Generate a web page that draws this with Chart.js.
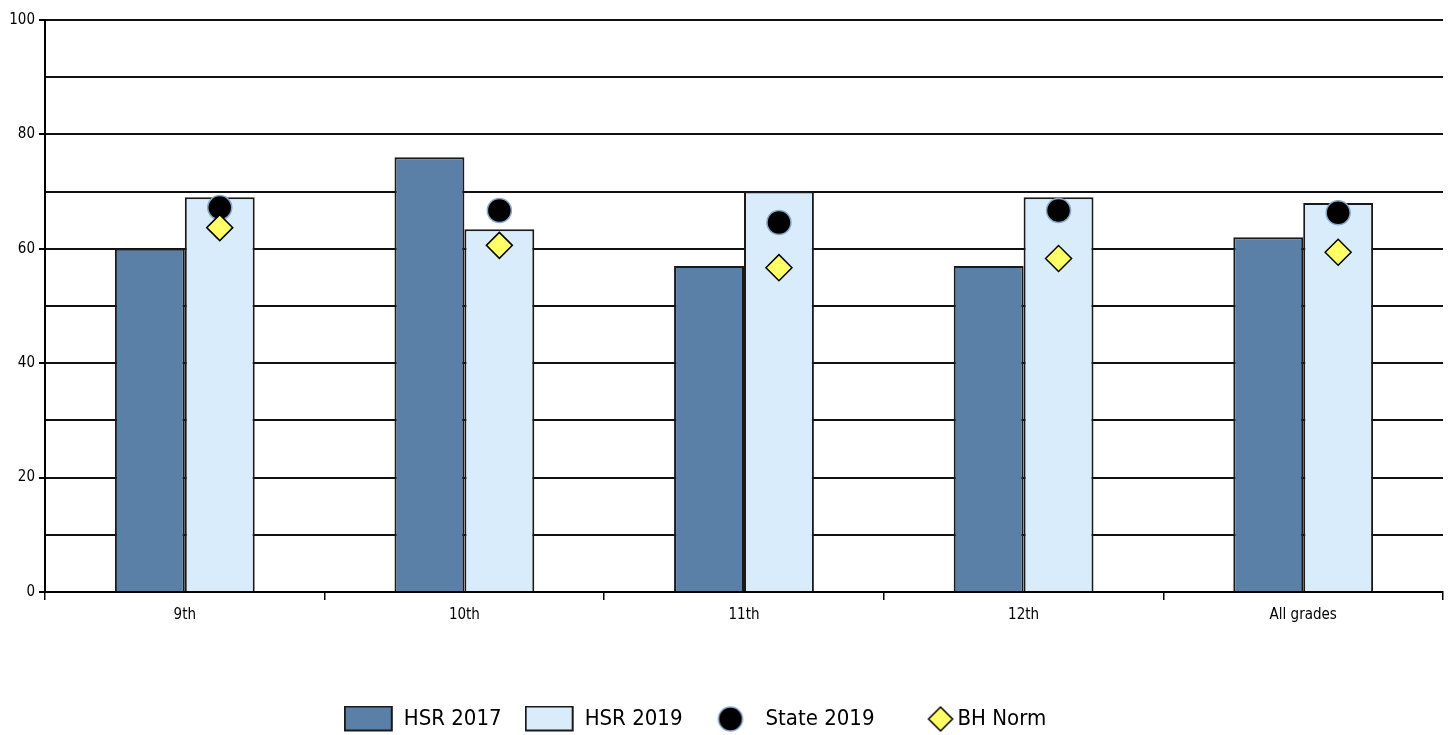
<!DOCTYPE html>
<html>
<head>
<meta charset="utf-8">
<script src="https://cdn.jsdelivr.net/npm/chart.js@4"></script>
<style>
  html, body { margin: 0; padding: 0; background: #fff; overflow: hidden; }
  #wrap { width: 1453px; height: 735px; }
</style>
</head>
<body>
<div id="wrap"><canvas id="chart"></canvas></div>
<script>
// Chart data
const grades = ['9th', '10th', '11th', '12th', 'All grades'];
const hsr2017 = [60, 76, 57, 57, 62];
const hsr2019 = [69, 63.4, 70, 69, 68];
const state2019 = [67.2, 66.7, 64.6, 66.7, 66.3];
const bhNorm = [63.7, 60.6, 56.7, 58.3, 59.4];
const yTicks = [0, 20, 40, 60, 80, 100];

const FONT = "'Liberation Sans Narrow', 'DejaVu Sans Condensed', 'Roboto Condensed', sans-serif";
const CAT_PCT = 0.5;
// markers sit on the centre of the second bar in each group
const MARK_SHIFT = CAT_PCT / 4;

// small canvases for the legend symbols
function legendIcon(kind) {
  const c = document.createElement('canvas');
  const g = c.getContext('2d');
  if (kind === 'rect17' || kind === 'rect19') {
    c.width = 50; c.height = 27;
    g.fillStyle = kind === 'rect17' ? '#5b80a8' : '#d9ecfc';
    g.fillRect(1, 1, 47, 24);
    g.strokeStyle = '#1a1a1a'; g.lineWidth = 2;
    g.strokeRect(1, 1, 47, 24);
  } else if (kind === 'circle') {
    c.width = 28; c.height = 28;
    g.beginPath(); g.arc(14, 14, 12, 0, Math.PI * 2);
    g.fillStyle = '#000'; g.fill();
    g.strokeStyle = '#8aa6c8'; g.lineWidth = 1.5; g.stroke();
  } else {
    // diamond sits close to its text, so draw it right of centre
    c.width = 64; c.height = 28;
    const cx = 50;
    g.beginPath();
    g.moveTo(cx, 2); g.lineTo(cx + 12, 14); g.lineTo(cx, 26); g.lineTo(cx - 12, 14); g.closePath();
    g.fillStyle = '#ffff66'; g.fill();
    g.strokeStyle = '#000'; g.lineWidth = 1.5; g.stroke();
  }
  return c;
}
const icons = [legendIcon('rect17'), legendIcon('rect19'), legendIcon('circle'), legendIcon('diamond')];

// nudge the legend a little left and down
const legendNudge = {
  id: 'legendNudge',
  afterLayout(chart) {
    const lg = chart.legend;
    lg.right -= 52;
    lg.top += 5;
    lg.bottom += 5;
  }
};

const ctx = document.getElementById('chart').getContext('2d');
new Chart(ctx, {
  type: 'bar',
  data: {
    datasets: [
      {
        label: 'HSR 2017',
        data: hsr2017.map((v, i) => ({ x: i, y: v })),
        backgroundColor: '#5b80a8',
        borderColor: '#1a1a1a',
        borderWidth: 2,
        categoryPercentage: CAT_PCT,
        barPercentage: 1.0,
        order: 3
      },
      {
        label: 'HSR 2019',
        data: hsr2019.map((v, i) => ({ x: i, y: v })),
        backgroundColor: '#d9ecfc',
        borderColor: '#1a1a1a',
        borderWidth: 2,
        categoryPercentage: CAT_PCT,
        barPercentage: 1.0,
        order: 3
      },
      {
        type: 'line',
        label: 'State 2019',
        data: state2019.map((v, i) => ({ x: i + MARK_SHIFT, y: v })),
        showLine: false,
        pointStyle: 'circle',
        pointRadius: 12,
        pointHoverRadius: 12,
        pointBackgroundColor: '#000',
        pointBorderColor: '#8aa6c8',
        pointBorderWidth: 1.5,
        order: 2
      },
      {
        type: 'line',
        label: 'BH Norm',
        data: bhNorm.map((v, i) => ({ x: i + MARK_SHIFT, y: v })),
        showLine: false,
        pointStyle: 'rectRot',
        pointRadius: 13,
        pointHoverRadius: 13,
        pointBackgroundColor: '#ffff66',
        pointBorderColor: '#000',
        pointBorderWidth: 1.5,
        order: 1
      }
    ]
  },
  options: {
    responsive: true,
    maintainAspectRatio: false,
    animation: false,
    layout: { autoPadding: false, padding: { top: 20, right: 10, left: 0, bottom: 0 } },
    scales: {
      x: {
        type: 'linear',
        offset: false,
        min: -0.5,
        max: grades.length - 0.5,
        afterBuildTicks(scale) {
          scale.ticks = grades.map((g, i) => ({ value: i }));
        },
        grid: {
          offset: true,
          drawOnChartArea: false,
          color: '#000',
          lineWidth: 1.5,
          tickLength: 8
        },
        border: { color: '#000', width: 2 },
        ticks: {
          color: '#000',
          font: { family: FONT, size: 15 },
          padding: 6,
          maxRotation: 0,
          autoSkip: false,
          callback: v => grades[v]
        },
        afterFit(scale) { scale.height = 87; }
      },
      y: {
        min: 0,
        max: 100,
        ticks: {
          stepSize: 10,
          color: '#000',
          font: { family: FONT, size: 15 },
          padding: 4,
          callback: v => yTicks.includes(v) ? v : ''
        },
        grid: {
          color: '#111',
          lineWidth: 2,
          tickLength: 6,
          tickColor: c => yTicks.includes(c.tick.value) ? '#000' : 'rgba(0,0,0,0)'
        },
        border: { color: '#000', width: 2 },
        afterFit(scale) { scale.width = 45; }
      }
    },
    plugins: {
      tooltip: { enabled: false },
      legend: {
        position: 'bottom',
        labels: {
          color: '#000',
          font: { family: FONT, size: 22 },
          usePointStyle: true,
          pointStyleWidth: 48,
          boxHeight: 24,
          padding: 24,
          generateLabels: chart => chart.data.datasets.map((ds, i) => ({
            text: ds.label,
            pointStyle: icons[i],
            fillStyle: 'rgba(0,0,0,0)',
            strokeStyle: 'rgba(0,0,0,0)',
            lineWidth: 0,
            hidden: false,
            datasetIndex: i
          }))
        }
      }
    }
  },
  plugins: [legendNudge]
});
</script>
</body>
</html>
